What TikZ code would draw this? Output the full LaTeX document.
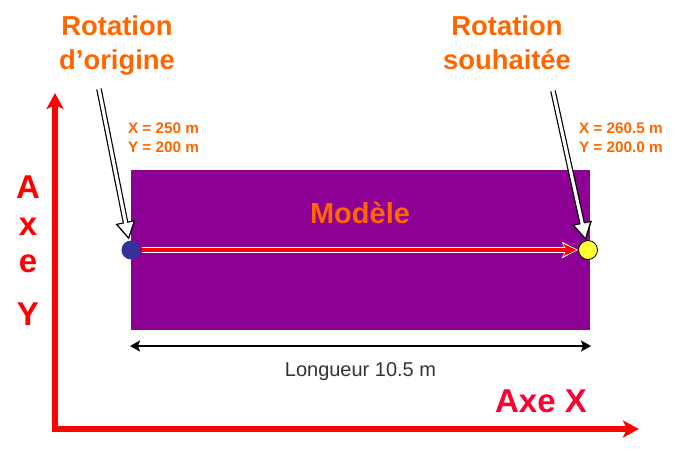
\documentclass[tikz,border=0pt]{standalone}
\usepackage{fontspec}
\setmainfont{Liberation Sans}
\usepackage{xcolor}
\usepackage{tikz}
\usetikzlibrary{arrows.meta, positioning}

\definecolor{orangetxt}{HTML}{FF6600}
\definecolor{modelfill}{HTML}{8C0094}
\definecolor{bluedot}{HTML}{333399}
\definecolor{yellowdot}{HTML}{FFFF33}
\definecolor{axexred}{HTML}{FF0033}
\definecolor{greytxt}{HTML}{333333}

\begin{document}
\begin{tikzpicture}[x=1pt, y=-1pt, line width=2pt]
	\tikzset{axis/.style={draw=red, line width=5.5pt, line join=miter, {Stealth[length=16pt, width=17pt, inset=4pt]}-{Stealth[length=16pt, width=17pt, inset=4pt]}}}
	\tikzset{dot/.style={circle, minimum size=19pt, inner sep=0pt}}
	\tikzset{titre/.style={text=orangetxt, font=\fontsize{27.4}{34}\selectfont\bfseries, align=center, inner sep=0pt}}
	\tikzset{coord/.style={text=orangetxt, font=\fontsize{15.3}{19}\selectfont\bfseries, align=left, inner sep=0pt}}
	\tikzset{redarrow/.style={draw=red, line width=3.5pt, shorten >=1.5pt, -{Stealth[length=13pt, width=12pt, inset=3pt]}, preaction={draw=white, line width=6pt, shorten >=0pt, -{Stealth[length=16pt, width=16pt, inset=3.5pt]}}}}
	\tikzset{hollow/.style={draw=white, line width=3.2pt, shorten >=2.8pt, -{Triangle[length=14pt, width=14.5pt]}, preaction={draw=black, line width=5.6pt, shorten >=0pt, -{Triangle[length=18pt, width=19pt]}}}}
	\tikzset{cote/.style={draw=black, line width=2pt, {Stealth[length=10pt, width=11pt, inset=2pt]}-{Stealth[length=10pt, width=11pt, inset=2pt]}}}
	
	\useasboundingbox (0,0) rectangle (700,450);
	
	% axes
	\coordinate (corner) at (55,429);
	\coordinate (ytip) at (55,93);
	\coordinate (xtip) at (639,429);
	\draw[axis] (ytip) -- (corner) -- (xtip);
	\node (axeY) [text=red, font=\fontsize{33}{37}\selectfont\bfseries, align=center, inner sep=0pt, anchor=north] at (28,175) {A\\x\\e\\[16pt]Y};
	\node (axeX) [text=axexred, font=\fontsize{33}{37}\selectfont\bfseries, inner sep=0pt, anchor=base] at (541,412) {Axe X};
	
	% modele
	\node (modele) [fill=modelfill, minimum width=459pt, minimum height=160pt, inner sep=0pt] at (360.5,250) {};
	\node (nommodele) [text=orangetxt, font=\fontsize{29}{34}\selectfont\bfseries, inner sep=0pt, anchor=base] at (360,223) {Modèle};
	
	% points
	\node (origine) [dot, fill=bluedot] at (131,250) {};
	\node (souhaitee) [dot, fill=yellowdot, draw=black, line width=0.8pt] at (588,250) {};
	\draw[redarrow] (origine) -- (souhaitee);
	
	% legendes
	\node (titreorig) [titre, anchor=north] at (117,15) {Rotation\\d’origine};
	\node (titresouh) [titre, anchor=north] at (507,15) {Rotation\\souhaitée};
	\node (coordorig) [coord, anchor=north west] at (127,122) {X = 250 m\\Y = 200 m};
	\node (coordsouh) [coord, anchor=north west] at (578,122) {X = 260.5 m\\Y = 200.0 m};
	\coordinate (deborig) at (99,89);
	\coordinate (debsouh) at (553,91);
	\draw[hollow] (deborig) -- (origine);
	\draw[hollow] (debsouh) -- (souhaitee);
	
	% longueur
	\draw[cote] (modele.south west |- 0,346) -- (modele.south east |- 0,346) node (longueur) [midway, below=12pt, text=greytxt, font=\fontsize{20}{24}\selectfont] {Longueur 10.5 m};
\end{tikzpicture}
\end{document}
